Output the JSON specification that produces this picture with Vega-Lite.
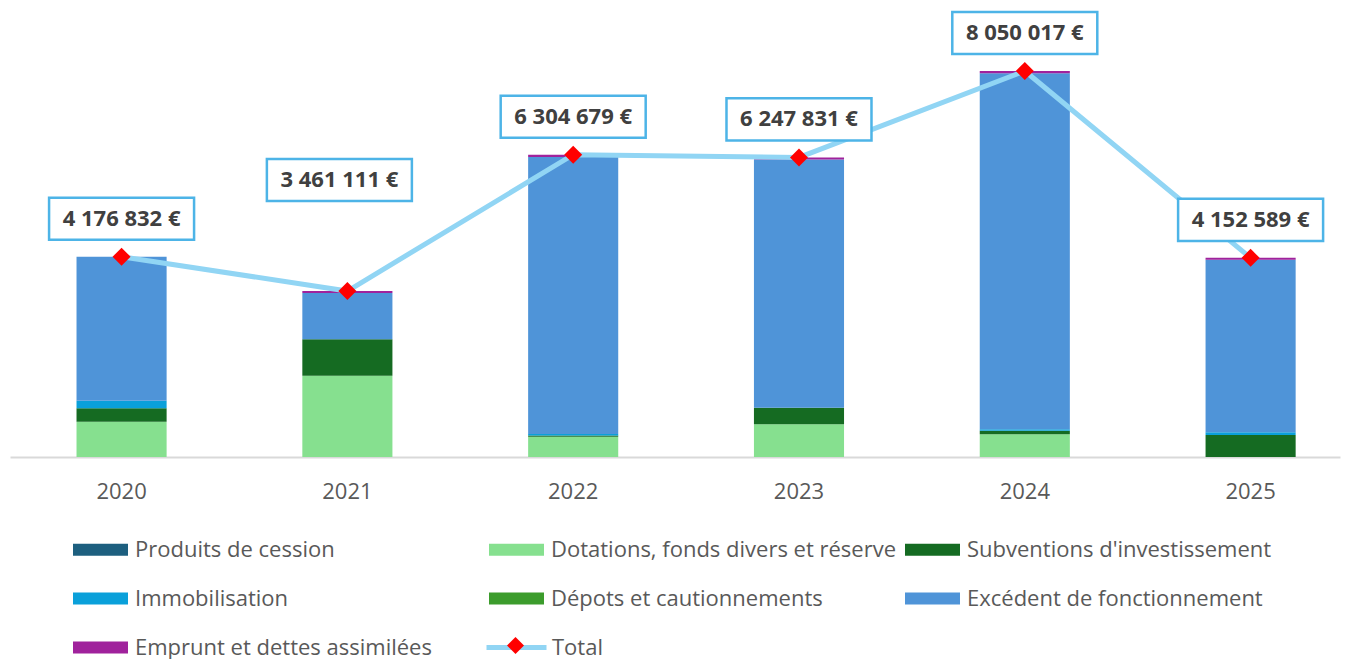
{
  "$schema": "https://vega.github.io/schema/vega-lite/v6.json",
  "width": 1330,
  "height": 457,
  "autosize": {"type": "none"},
  "padding": {"left": 10, "top": 0, "right": 6, "bottom": 202},
  "background": "white",
  "config": {
    "view": {"stroke": null},
    "font": "Open Sans",
    "locale": {
      "number": {"decimal": ",", "thousands": " ", "grouping": [3], "currency": ["", " €"]}
    }
  },
  "datasets": {
    "barres": [
      {"annee": "2020", "serie": "Produits de cession", "montant": 0, "ordre": 1},
      {"annee": "2020", "serie": "Dotations, fonds divers et réserve", "montant": 736000, "ordre": 2},
      {"annee": "2020", "serie": "Subventions d'investissement", "montant": 279000, "ordre": 3},
      {"annee": "2020", "serie": "Immobilisation", "montant": 158000, "ordre": 4},
      {"annee": "2020", "serie": "Dépots et cautionnements", "montant": 0, "ordre": 5},
      {"annee": "2020", "serie": "Excédent de fonctionnement", "montant": 3003832, "ordre": 6},
      {"annee": "2020", "serie": "Emprunt et dettes assimilées", "montant": 0, "ordre": 7},
      {"annee": "2021", "serie": "Produits de cession", "montant": 0, "ordre": 1},
      {"annee": "2021", "serie": "Dotations, fonds divers et réserve", "montant": 1696000, "ordre": 2},
      {"annee": "2021", "serie": "Subventions d'investissement", "montant": 759000, "ordre": 3},
      {"annee": "2021", "serie": "Immobilisation", "montant": 0, "ordre": 4},
      {"annee": "2021", "serie": "Dépots et cautionnements", "montant": 0, "ordre": 5},
      {"annee": "2021", "serie": "Excédent de fonctionnement", "montant": 966000, "ordre": 6},
      {"annee": "2021", "serie": "Emprunt et dettes assimilées", "montant": 40111, "ordre": 7},
      {"annee": "2022", "serie": "Produits de cession", "montant": 0, "ordre": 1},
      {"annee": "2022", "serie": "Dotations, fonds divers et réserve", "montant": 424000, "ordre": 2},
      {"annee": "2022", "serie": "Subventions d'investissement", "montant": 25000, "ordre": 3},
      {"annee": "2022", "serie": "Immobilisation", "montant": 30000, "ordre": 4},
      {"annee": "2022", "serie": "Dépots et cautionnements", "montant": 0, "ordre": 5},
      {"annee": "2022", "serie": "Excédent de fonctionnement", "montant": 5775679, "ordre": 6},
      {"annee": "2022", "serie": "Emprunt et dettes assimilées", "montant": 50000, "ordre": 7},
      {"annee": "2023", "serie": "Produits de cession", "montant": 0, "ordre": 1},
      {"annee": "2023", "serie": "Dotations, fonds divers et réserve", "montant": 682000, "ordre": 2},
      {"annee": "2023", "serie": "Subventions d'investissement", "montant": 346000, "ordre": 3},
      {"annee": "2023", "serie": "Immobilisation", "montant": 0, "ordre": 4},
      {"annee": "2023", "serie": "Dépots et cautionnements", "montant": 0, "ordre": 5},
      {"annee": "2023", "serie": "Excédent de fonctionnement", "montant": 5174831, "ordre": 6},
      {"annee": "2023", "serie": "Emprunt et dettes assimilées", "montant": 45000, "ordre": 7},
      {"annee": "2024", "serie": "Produits de cession", "montant": 0, "ordre": 1},
      {"annee": "2024", "serie": "Dotations, fonds divers et réserve", "montant": 473000, "ordre": 2},
      {"annee": "2024", "serie": "Subventions d'investissement", "montant": 75000, "ordre": 3},
      {"annee": "2024", "serie": "Immobilisation", "montant": 30000, "ordre": 4},
      {"annee": "2024", "serie": "Dépots et cautionnements", "montant": 0, "ordre": 5},
      {"annee": "2024", "serie": "Excédent de fonctionnement", "montant": 7422017, "ordre": 6},
      {"annee": "2024", "serie": "Emprunt et dettes assimilées", "montant": 50000, "ordre": 7},
      {"annee": "2025", "serie": "Produits de cession", "montant": 0, "ordre": 1},
      {"annee": "2025", "serie": "Dotations, fonds divers et réserve", "montant": 0, "ordre": 2},
      {"annee": "2025", "serie": "Subventions d'investissement", "montant": 459000, "ordre": 3},
      {"annee": "2025", "serie": "Immobilisation", "montant": 56000, "ordre": 4},
      {"annee": "2025", "serie": "Dépots et cautionnements", "montant": 0, "ordre": 5},
      {"annee": "2025", "serie": "Excédent de fonctionnement", "montant": 3597589, "ordre": 6},
      {"annee": "2025", "serie": "Emprunt et dettes assimilées", "montant": 40000, "ordre": 7}
    ],
    "totaux": [
      {"annee": "2020", "serie": "Total", "total": 4176832},
      {"annee": "2021", "serie": "Total", "total": 3461111},
      {"annee": "2022", "serie": "Total", "total": 6304679},
      {"annee": "2023", "serie": "Total", "total": 6247831},
      {"annee": "2024", "serie": "Total", "total": 8050017},
      {"annee": "2025", "serie": "Total", "total": 4152589}
    ]
  },
  "layer": [
    {
      "data": {"name": "barres"},
      "mark": {"type": "bar"},
      "encoding": {
        "x": {
          "field": "annee", "type": "nominal",
          "scale": {"paddingInner": 0.601, "paddingOuter": 0.2455, "align": 0.6},
          "axis": {
            "title": null, "labelAngle": 0, "ticks": false,
            "domainColor": "#d9d9d9", "domainWidth": 2,
            "labelColor": "#595959", "labelFontSize": 22, "labelFont": "Open Sans",
            "labelPadding": 24
          }
        },
        "y": {
          "field": "montant", "type": "quantitative", "stack": "zero",
          "scale": {"domain": [0, 9530000], "nice": false}, "axis": null
        },
        "color": {
          "field": "serie", "type": "nominal",
          "scale": {
            "domain": ["Produits de cession", "Dotations, fonds divers et réserve", "Subventions d'investissement", "Immobilisation", "Dépots et cautionnements", "Excédent de fonctionnement", "Emprunt et dettes assimilées"],
            "range": ["#1d5f7f", "#86e08f", "#156b22", "#0aa0da", "#3c9c2c", "#4f94d8", "#a0229c"]
          },
          "legend": {
            "title": null, "orient": "none", "legendX": 63, "legendY": 522,
            "columns": 3, "direction": "horizontal", "gridAlign": "all",
            "columnPadding": 8, "rowPadding": 10,
            "symbolType": "M-1,-0.22H1V0.22H-1Z", "symbolSize": 3025, "symbolStrokeWidth": 0,
            "labelFont": "Open Sans", "labelFontSize": 22, "labelColor": "#595959",
            "labelLimit": 600, "labelOffset": 7
          }
        },
        "order": {"field": "ordre", "type": "quantitative"}
      }
    },
    {
      "data": {"name": "totaux"},
      "mark": {"type": "line", "strokeWidth": 5},
      "encoding": {
        "x": {"field": "annee", "type": "nominal"},
        "y": {"field": "total", "type": "quantitative", "axis": null},
        "stroke": {
          "field": "serie", "type": "nominal",
          "scale": {"domain": ["Total"], "range": ["#91d5f4"]},
          "legend": {
            "title": null, "orient": "none", "legendX": 474, "legendY": 615,
            "symbolType": "stroke", "symbolSize": 3600, "symbolStrokeWidth": 5,
            "labelFont": "Open Sans", "labelFontSize": 22, "labelColor": "#595959", "labelOffset": 3
          }
        }
      }
    },
    {
      "data": {"name": "totaux"},
      "mark": {"type": "point", "shape": "diamond", "size": 324, "filled": true, "opacity": 1, "strokeWidth": 0},
      "encoding": {
        "x": {"field": "annee", "type": "nominal"},
        "y": {"field": "total", "type": "quantitative", "axis": null},
        "fill": {
          "field": "serie", "type": "nominal",
          "scale": {"range": ["#ff0000"]},
          "legend": {
            "title": null, "orient": "none", "legendX": 497, "legendY": 637,
            "symbolType": "diamond", "symbolSize": 289, "symbolStrokeWidth": 0,
            "labelFontSize": 10, "labelOpacity": 0
          }
        }
      }
    },
    {
      "data": {"name": "totaux"},
      "transform": [{"filter": "datum.annee !== '2021'"}],
      "layer": [
        {
          "mark": {"type": "point", "shape": "M-1,-0.29H1V0.29H-1Z", "size": 21025, "filled": true, "fill": "white", "stroke": "#4db4e7", "strokeWidth": 2.5, "opacity": 1, "yOffset": -38},
          "encoding": {
            "x": {"field": "annee", "type": "nominal"},
            "y": {"field": "total", "type": "quantitative", "axis": null}
          }
        },
        {
          "mark": {"type": "text", "fontWeight": "bold", "fontSize": 22, "fill": "#404040", "font": "Open Sans", "baseline": "middle", "yOffset": -38},
          "encoding": {
            "x": {"field": "annee", "type": "nominal"},
            "y": {"field": "total", "type": "quantitative", "axis": null},
            "text": {"field": "total", "type": "quantitative", "format": "$,.0f"}
          }
        }
      ]
    },
    {
      "data": {"name": "totaux"},
      "transform": [{"filter": "datum.annee === '2021'"}],
      "layer": [
        {
          "mark": {"type": "point", "shape": "M-1,-0.29H1V0.29H-1Z", "size": 21025, "filled": true, "fill": "white", "stroke": "#4db4e7", "strokeWidth": 2.5, "opacity": 1, "yOffset": -111, "xOffset": -8},
          "encoding": {
            "x": {"field": "annee", "type": "nominal"},
            "y": {"field": "total", "type": "quantitative", "axis": null}
          }
        },
        {
          "mark": {"type": "text", "fontWeight": "bold", "fontSize": 22, "fill": "#404040", "font": "Open Sans", "baseline": "middle", "yOffset": -111, "xOffset": -8},
          "encoding": {
            "x": {"field": "annee", "type": "nominal"},
            "y": {"field": "total", "type": "quantitative", "axis": null},
            "text": {"field": "total", "type": "quantitative", "format": "$,.0f"}
          }
        }
      ]
    }
  ]
}
